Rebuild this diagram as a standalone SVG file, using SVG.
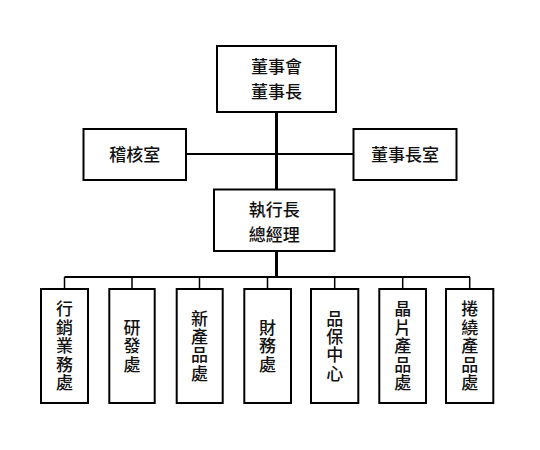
<svg xmlns="http://www.w3.org/2000/svg" width="540" height="450" viewBox="0 0 540 450">
<style>
.box{fill:#fff;stroke:#000;stroke-width:2}
.t{font-family:"Noto Sans CJK TC","Noto Sans CJK SC",sans-serif;font-size:17px;font-weight:500;fill:#111;text-anchor:middle}
.v{font-family:"Noto Sans CJK TC","Noto Sans CJK SC",sans-serif;font-size:17px;font-weight:500;fill:#111;text-anchor:middle;writing-mode:vertical-rl;letter-spacing:1.4px}
.thick{stroke:#000;stroke-width:3;fill:none}
.mid{stroke:#000;stroke-width:2;fill:none}
.thin{stroke:#000;stroke-width:1.5;fill:none}
</style>
<rect width="540" height="450" fill="#fff"/>
<g id="connectors">
<line class="thick" x1="276.5" y1="112" x2="276.5" y2="190"/>
<line class="mid" x1="186" y1="154" x2="354" y2="154"/>
<line class="thick" x1="276.5" y1="251" x2="276.5" y2="277"/>
<line class="mid" x1="64.5" y1="277" x2="470" y2="277"/>
<line class="thin" x1="64.5" y1="277" x2="64.5" y2="289"/>
<line class="thin" x1="132" y1="277" x2="132" y2="289"/>
<line class="thin" x1="199.5" y1="277" x2="199.5" y2="289"/>
<line class="thin" x1="267.5" y1="277" x2="267.5" y2="289"/>
<line class="thin" x1="334.7" y1="277" x2="334.7" y2="289"/>
<line class="thin" x1="402.7" y1="277" x2="402.7" y2="289"/>
<line class="thin" x1="469.7" y1="277" x2="469.7" y2="289"/>
</g>
<g id="board">
<rect class="box" x="217" y="46" width="119" height="66"/>
<text class="t" x="276.5" y="73">董事會</text>
<text class="t" x="276.5" y="98">董事長</text>
</g>
<g id="audit">
<rect class="box" x="83.5" y="129" width="102.5" height="51"/>
<text class="t" x="134.7" y="160.5">稽核室</text>
</g>
<g id="chairman-office">
<rect class="box" x="353.5" y="129" width="103" height="51"/>
<text class="t" x="405" y="160.5">董事長室</text>
</g>
<g id="ceo">
<rect class="box" x="214" y="189.5" width="120.5" height="61.5"/>
<text class="t" x="274.2" y="216">執行長</text>
<text class="t" x="274.2" y="241">總經理</text>
</g>
<g id="sales">
<rect class="box" x="41" y="289" width="47" height="114"/>
<text class="v" x="64.5" y="346.5">行銷業務處</text>
</g>
<g id="rd">
<rect class="box" x="109.3" y="289" width="45.4" height="114"/>
<text class="v" x="132" y="346.5">研發處</text>
</g>
<g id="newproduct">
<rect class="box" x="176.7" y="289" width="46" height="114"/>
<text class="v" x="199.5" y="346.5">新產品處</text>
</g>
<g id="finance">
<rect class="box" x="244.3" y="289" width="46.7" height="114"/>
<text class="v" x="267.5" y="346.5">財務處</text>
</g>
<g id="qa">
<rect class="box" x="311" y="289" width="47.3" height="114"/>
<text class="v" x="334.7" y="346.5">品保中心</text>
</g>
<g id="chip">
<rect class="box" x="379.3" y="289" width="46.7" height="114"/>
<text class="v" x="402.7" y="346.5">晶片產品處</text>
</g>
<g id="coil">
<rect class="box" x="446" y="289" width="47.3" height="114"/>
<text class="v" x="469.7" y="346.5">捲繞產品處</text>
</g>
</svg>
